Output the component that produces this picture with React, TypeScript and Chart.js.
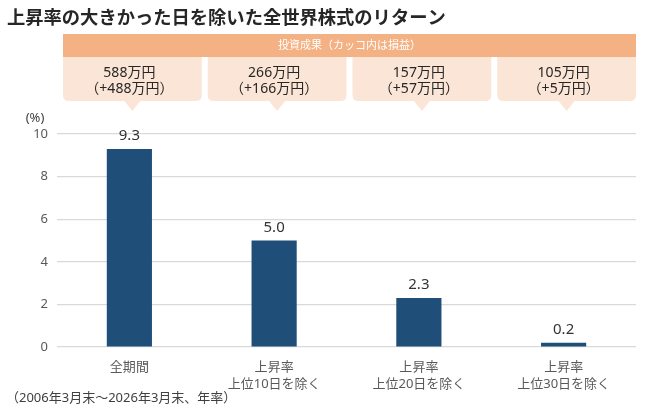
import { useEffect, useRef } from 'react';
import { Chart, registerables, type ChartConfiguration, type Plugin } from 'chart.js';

Chart.register(...registerables);

const FONT = '"Noto Sans", "Noto Sans CJK JP", sans-serif';

const TITLE = '上昇率の大きかった日を除いた全世界株式のリターン';
const BAND_LABEL = '投資成果（カッコ内は損益）';
const FOOTNOTE = '（2006年3月末～2026年3月末、年率）';
const UNIT = '(%)';

const CATEGORIES = [['全期間'], ['上昇率', '上位10日を除く'], ['上昇率', '上位20日を除く'], ['上昇率', '上位30日を除く']];
const RETURNS = [9.3, 5.0, 2.3, 0.2];
const RESULTS = ['588万円', '266万円', '157万円', '105万円'];
const GAINS = ['（+488万円）', '（+166万円）', '（+57万円）', '（+5万円）'];

const BAR_COLOR = '#1F4E79';
const BAND_COLOR = '#F4B183';
const BOX_COLOR = '#FBE5D6';

// title, result boxes, value labels and footnote
const decorations: Plugin<'bar'> = {
  id: 'decorations',
  afterDraw(chart) {
    const { ctx, chartArea } = chart;
    const x = chart.scales.x;
    ctx.save();

    ctx.fillStyle = '#262626';
    ctx.font = `bold 18.3px "Noto Sans CJK JP", sans-serif`;
    ctx.textAlign = 'left';
    ctx.textBaseline = 'middle';
    ctx.fillText(TITLE, 7, 17);

    // orange band
    const bandL = chartArea.left + 6;
    const bandR = chartArea.right;
    ctx.fillStyle = BAND_COLOR;
    ctx.fillRect(bandL, 34, bandR - bandL, 23);
    ctx.fillStyle = '#ffffff';
    ctx.font = `11px ${FONT}`;
    ctx.textAlign = 'center';
    ctx.fillText(BAND_LABEL, (bandL + bandR) / 2, 46);

    // boxes with pointers
    const gap = 6;
    const boxW = (bandR - bandL - gap * 3) / 4;
    RESULTS.forEach((r, i) => {
      const bx = bandL + i * (boxW + gap);
      const top = 57;
      const bottom = 101;
      const rad = 6;
      const cx = bx + boxW / 2;
      ctx.fillStyle = BOX_COLOR;
      ctx.beginPath();
      ctx.moveTo(bx, top);
      ctx.lineTo(bx + boxW, top);
      ctx.lineTo(bx + boxW, bottom - rad);
      ctx.quadraticCurveTo(bx + boxW, bottom, bx + boxW - rad, bottom);
      ctx.lineTo(cx + 8, bottom);
      ctx.lineTo(cx, bottom + 10);
      ctx.lineTo(cx - 8, bottom);
      ctx.lineTo(bx + rad, bottom);
      ctx.quadraticCurveTo(bx, bottom, bx, bottom - rad);
      ctx.closePath();
      ctx.fill();
      const tx = x.getPixelForValue(i);
      ctx.fillStyle = '#262626';
      ctx.font = `14px ${FONT}`;
      ctx.fillText(r, tx, 73);
      ctx.fillText(GAINS[i], tx, 89);
    });

    // value labels
    const meta = chart.getDatasetMeta(0);
    ctx.fillStyle = '#333333';
    ctx.font = `15px ${FONT}`;
    meta.data.forEach((bar, i) => {
      ctx.fillText(RETURNS[i].toFixed(1), bar.x, bar.y - 13);
    });

    ctx.fillStyle = '#404040';
    ctx.font = `13px ${FONT}`;
    ctx.fillText(UNIT, 35, 118);

    ctx.textAlign = 'left';
    ctx.fillText(FOOTNOTE, 6, 398);
    ctx.restore();
  },
};

export default function App() {
  const canvasRef = useRef<HTMLCanvasElement>(null);

  useEffect(() => {
    const canvas = canvasRef.current;
    if (!canvas) return;

    const config: ChartConfiguration<'bar'> = {
      type: 'bar',
      data: {
        labels: CATEGORIES,
        datasets: [
          {
            data: RETURNS,
            backgroundColor: BAR_COLOR,
            borderWidth: 0,
            categoryPercentage: 1,
            barPercentage: 0.312,
          },
        ],
      },
      options: {
        animation: false,
        responsive: true,
        maintainAspectRatio: false,
        layout: { padding: { top: 134, right: 17, bottom: 0, left: 0 } },
        plugins: { legend: { display: false }, tooltip: { enabled: false } },
        scales: {
          x: {
            grid: { display: false },
            border: { display: false },
            ticks: {
              color: '#595959',
              font: { family: FONT, size: 13, lineHeight: 1.3 },
              padding: 4,
              maxRotation: 0,
              autoSkip: false,
            },
            afterFit: (s) => { s.height = 67; },
          },
          y: {
            min: 0,
            max: 10,
            grid: { color: '#D9D9D9', lineWidth: 1.2, drawTicks: false },
            border: { display: false },
            ticks: {
              stepSize: 2,
              color: '#595959',
              font: { family: FONT, size: 13 },
              padding: 9,
            },
            afterFit: (s) => { s.width = 57; },
          },
        },
      },
      plugins: [decorations],
    };

    const chart = new Chart(canvas, config);
    return () => { chart.destroy(); };
  }, []);

  return (
    <div style={{ position: 'fixed', left: 0, top: 0, width: 653, height: 414, background: '#ffffff' }}>
      <canvas ref={canvasRef} />
    </div>
  );
}
